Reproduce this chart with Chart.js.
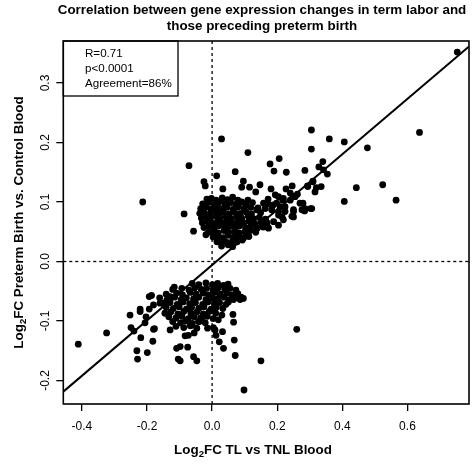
<!DOCTYPE html>
<html>
<head>
<meta charset="utf-8">
<title>Term labor vs preterm birth</title>
<script src="https://cdn.jsdelivr.net/npm/chart.js@4.4.0/dist/chart.umd.min.js"></script>
<style>
  html, body { margin: 0; padding: 0; background: #fff; }
  #wrap { width: 475px; height: 465px; }
</style>
</head>
<body>
<div id="wrap"><canvas id="scatterChart"></canvas></div>
<script>
// axis ranges and ticks
const xMin = -0.457, xMax = 0.789;
const yMin = -0.2395, yMax = 0.3706;
const xTicks = [-0.4, -0.2, 0.0, 0.2, 0.4, 0.6];
const yTicks = [-0.2, -0.1, 0.0, 0.1, 0.2, 0.3];

// fitted line
const fitSlope = 0.4655;
const fitIntercept = -0.006;

const titleLines = ["Correlation between gene expression changes in term labor and", "those preceding preterm birth"];
const statsLines = ["R=0.71", "p<0.0001", "Agreement=86%"];

// genes up in both (upper cloud), [log2FC TL, log2FC PTB]
const upperCluster = [
  [0.753,0.352],[0.637,0.217],[0.305,0.221],[0.360,0.206],[0.406,0.201],[0.477,0.191],[0.305,0.189],
  [0.029,0.206],[0.110,0.183],[0.178,0.164],[0.206,0.173],[0.190,0.152],[0.228,0.150],[0.285,0.153],
  [0.071,0.151],[0.014,0.144],[0.340,0.168],[0.328,0.159],[0.342,0.154],[0.354,0.147],
  [0.310,0.135],[0.293,0.127],[0.320,0.124],[0.335,0.126],[0.443,0.124],[0.524,0.129],[0.565,0.103],[0.406,0.101],
  [0.303,0.089],[0.279,0.098],[0.284,0.085],[0.246,0.127],[0.227,0.122],[0.181,0.122],[0.147,0.129],
  [0.096,0.135],[0.091,0.125],[0.115,0.125],[0.033,0.122],[0.134,0.117],
  [0.262,0.113],[0.248,0.110],[0.240,0.103],[0.204,0.109],[0.198,0.098],
  [0.217,0.103],[0.224,0.092],[0.250,0.087],[0.245,0.076],
  [0.172,0.105],[0.158,0.098],[0.172,0.097],[0.188,0.095],[0.110,0.103],[0.124,0.099],
  [0.204,0.084],[0.215,0.075],[0.204,0.061],[0.172,0.057],
  [-0.071,0.161],[-0.025,0.134],[-0.021,0.127],[-0.213,0.100],[-0.086,0.080],[-0.057,0.051],[-0.019,0.045],[-0.016,0.105],
  [0.294,0.126],[0.309,0.134],[0.316,0.117],[0.194,0.112],[0.219,0.106],[0.240,0.115],[0.255,0.109],
  [0.270,0.098],[0.286,0.089],[0.306,0.089],[0.137,0.087],[0.163,0.089],[0.183,0.087],[0.209,0.092],
  [0.224,0.084],[0.250,0.084],[0.204,0.078],[0.219,0.070],[0.250,0.075],[0.276,0.087],[0.173,0.056],
  [-0.002,0.106],[0.012,0.103],[0.031,0.107],[0.047,0.104],[0.063,0.108],[0.079,0.103],
  [-0.029,0.097],[-0.011,0.099],[0.006,0.096],[0.021,0.100],[0.039,0.097],[0.057,0.099],[0.073,0.096],[0.091,0.100],[0.104,0.095],
  [-0.035,0.089],[-0.019,0.091],[-0.003,0.088],[0.015,0.092],[0.027,0.089],[0.046,0.091],[0.065,0.088],[0.081,0.092],[0.099,0.089],[0.119,0.091],[0.141,0.090],
  [-0.038,0.081],[-0.025,0.083],[-0.007,0.080],[0.009,0.084],[0.023,0.081],[0.035,0.083],[0.053,0.080],[0.069,0.083],[0.087,0.081],[0.105,0.083],[0.121,0.080],[0.149,0.082],
  [-0.033,0.073],[-0.017,0.075],[-0.005,0.072],[0.013,0.076],[0.025,0.073],[0.043,0.075],[0.057,0.072],[0.075,0.075],[0.091,0.073],[0.111,0.076],[0.127,0.072],[0.145,0.074],[0.164,0.071],
  [-0.030,0.065],[-0.013,0.067],[0.003,0.064],[0.017,0.068],[0.033,0.065],[0.047,0.067],[0.065,0.064],[0.079,0.067],[0.097,0.065],[0.113,0.068],[0.131,0.064],[0.151,0.066],[0.169,0.065],[0.189,0.067],
  [-0.025,0.057],[-0.009,0.059],[0.007,0.056],[0.021,0.060],[0.039,0.057],[0.053,0.059],[0.071,0.056],[0.085,0.060],[0.103,0.057],[0.119,0.059],[0.139,0.056],[0.157,0.058],
  [-0.011,0.049],[0.005,0.051],[0.019,0.048],[0.037,0.052],[0.051,0.049],[0.069,0.051],[0.083,0.048],[0.101,0.050],[0.117,0.052],[0.134,0.049],
  [0.003,0.041],[0.017,0.043],[0.035,0.040],[0.049,0.044],[0.067,0.041],[0.081,0.043],[0.097,0.040],[0.113,0.042],
  [0.015,0.033],[0.031,0.035],[0.045,0.032],[0.063,0.035],[0.077,0.033],[0.093,0.036],
  [0.029,0.026],[0.049,0.028],[0.063,0.025]
];

// genes down in both (lower cloud)
const lowerCluster = [
  [-0.411,-0.139],[-0.324,-0.120],[-0.252,-0.090],[-0.249,-0.111],[-0.240,-0.117],[-0.221,-0.080],[-0.221,-0.084],
  [-0.219,-0.128],[-0.231,-0.150],[-0.229,-0.164],[-0.199,-0.153],[-0.182,-0.134],[-0.177,-0.113],[-0.193,-0.059],
  [-0.186,-0.057],[-0.193,-0.080],[-0.206,-0.103],[-0.116,-0.043],[-0.109,-0.146],[-0.104,-0.164],[-0.098,-0.167],
  [-0.075,-0.144],[-0.057,-0.160],[-0.047,-0.167],[-0.083,-0.125],[-0.073,-0.124],[-0.055,-0.120],[0.032,-0.118],
  [0.022,-0.135],[0.035,-0.146],[0.068,-0.132],[0.071,-0.158],[0.012,-0.124],[0.260,-0.114],[0.150,-0.167],
  [0.098,-0.216],[0.066,-0.102],[0.064,-0.089],[0.086,-0.064],[0.066,-0.064],[0.004,-0.111],[-0.014,-0.112],[-0.047,-0.112],
  [-0.180,-0.073],[-0.160,-0.070],[-0.203,-0.093],[-0.180,-0.114],[-0.129,-0.115],[-0.098,-0.143],
  [0.096,-0.062],[0.050,-0.068],[0.030,-0.090],[0.019,-0.098],[0.009,-0.115],[-0.042,-0.101],[-0.032,-0.098],[-0.062,-0.107],
  [-0.150,-0.070],[-0.139,-0.065],[-0.129,-0.059],
  [-0.061,-0.037],[-0.041,-0.039],[-0.019,-0.036],[0.001,-0.039],[0.017,-0.037],[0.035,-0.040],[0.049,-0.038],
  [-0.121,-0.047],[-0.093,-0.045],[-0.071,-0.048],[-0.053,-0.044],[-0.033,-0.047],[-0.017,-0.045],[0.003,-0.048],[0.019,-0.044],[0.039,-0.047],[0.055,-0.045],[0.073,-0.048],
  [-0.141,-0.055],[-0.109,-0.053],[-0.091,-0.056],[-0.067,-0.052],[-0.049,-0.055],[-0.027,-0.053],[-0.011,-0.056],[0.009,-0.052],[0.025,-0.055],[0.045,-0.053],[0.061,-0.056],[0.079,-0.054],
  [-0.161,-0.061],[-0.131,-0.063],[-0.115,-0.060],[-0.095,-0.064],[-0.079,-0.061],[-0.057,-0.063],[-0.041,-0.060],[-0.019,-0.064],[0.001,-0.061],[0.017,-0.063],[0.037,-0.060],[0.053,-0.064],[0.069,-0.061],[0.089,-0.060],
  [-0.149,-0.071],[-0.129,-0.069],[-0.107,-0.072],[-0.089,-0.068],[-0.069,-0.071],[-0.051,-0.069],[-0.029,-0.072],[-0.013,-0.068],[0.007,-0.071],[0.023,-0.069],[0.043,-0.072],
  [-0.141,-0.077],[-0.119,-0.079],[-0.101,-0.076],[-0.079,-0.080],[-0.063,-0.077],[-0.041,-0.079],[-0.025,-0.076],[-0.003,-0.080],[0.013,-0.077],[0.033,-0.079],
  [-0.145,-0.087],[-0.127,-0.085],[-0.105,-0.088],[-0.087,-0.084],[-0.065,-0.087],[-0.047,-0.085],[-0.027,-0.088],[-0.009,-0.084],[0.011,-0.087],
  [-0.133,-0.093],[-0.111,-0.095],[-0.093,-0.092],[-0.073,-0.096],[-0.055,-0.093],[-0.035,-0.095],[-0.015,-0.092],[0.003,-0.096],
  [-0.121,-0.101],[-0.097,-0.103],[-0.081,-0.100],[-0.061,-0.104],[-0.039,-0.101],[-0.021,-0.103],
  [-0.111,-0.109],[-0.087,-0.111],[-0.067,-0.108]
];

const FONT = "'Liberation Sans', Arial, sans-serif";

function toPoints(list) {
  return list.map(p => ({ x: p[0], y: p[1] }));
}

// draws "Log" + subscript 2 + rest, centred on (0,0) of the current transform
function drawLogLabel(ctx, rest, size) {
  const big = "bold " + size + "px " + FONT;
  const small = "bold " + (size * 0.72).toFixed(1) + "px " + FONT;
  ctx.font = big;
  const w1 = ctx.measureText("Log").width;
  const w3 = ctx.measureText(rest).width;
  ctx.font = small;
  const w2 = ctx.measureText("2").width;
  let x = -(w1 + w2 + w3) / 2;
  const base = size * 0.36;
  ctx.textAlign = "left";
  ctx.textBaseline = "alphabetic";
  ctx.font = big;
  ctx.fillText("Log", x, base);
  x += w1;
  ctx.font = small;
  ctx.fillText("2", x, base + size * 0.25);
  x += w2;
  ctx.font = big;
  ctx.fillText(rest, x, base);
}

const rDecor = {
  id: "rDecor",
  afterDraw(chart) {
    const ctx = chart.ctx;
    const area = chart.chartArea;
    const yScale = chart.scales.y;
    ctx.save();
    ctx.fillStyle = "#000";
    ctx.strokeStyle = "#000";

    // plot box
    ctx.lineWidth = 1.6;
    ctx.strokeRect(area.left, area.top, area.right - area.left, area.bottom - area.top);

    // y tick labels, parallel to the axis
    ctx.font = "12px " + FONT;
    ctx.textAlign = "center";
    ctx.textBaseline = "middle";
    yTicks.forEach(v => {
      const py = yScale.getPixelForValue(v);
      ctx.save();
      ctx.translate(46, py);
      ctx.rotate(-Math.PI / 2);
      ctx.fillText(v.toFixed(1), 0, 0);
      ctx.restore();
    });

    // stats box
    ctx.lineWidth = 1.3;
    ctx.strokeRect(area.left, area.top, 178 - area.left, 96 - area.top);
    ctx.font = "11.6px " + FONT;
    ctx.textAlign = "left";
    ctx.textBaseline = "alphabetic";
    statsLines.forEach((s, i) => {
      ctx.fillText(s, 85, 57.3 + i * 14.7);
    });

    // main title
    ctx.font = "bold 13.4px " + FONT;
    ctx.textAlign = "center";
    ctx.fillText(titleLines[0], 262, 13.5);
    ctx.fillText(titleLines[1], 262, 29.5);

    // axis titles
    ctx.save();
    ctx.translate(253, 449);
    drawLogLabel(ctx, "FC TL vs TNL Blood", 13.4);
    ctx.restore();

    ctx.save();
    ctx.translate(18, (area.top + area.bottom) / 2);
    ctx.rotate(-Math.PI / 2);
    drawLogLabel(ctx, "FC Preterm Birth vs. Control Blood", 13.4);
    ctx.restore();

    ctx.restore();
  }
};

const ctx = document.getElementById("scatterChart").getContext("2d");

const chart = new Chart(ctx, {
  type: "scatter",
  data: {
    datasets: [
      {
        label: "Fit",
        data: [
          { x: xMin, y: fitIntercept + fitSlope * xMin },
          { x: xMax, y: fitIntercept + fitSlope * xMax }
        ],
        showLine: true,
        borderColor: "#000",
        borderWidth: 2,
        pointRadius: 0
      },
      {
        label: "x = 0",
        data: [{ x: 0, y: yMin }, { x: 0, y: yMax }],
        showLine: true,
        borderColor: "#000",
        borderWidth: 1.3,
        borderDash: [3, 3],
        pointRadius: 0
      },
      {
        label: "y = 0",
        data: [{ x: xMin, y: 0 }, { x: xMax, y: 0 }],
        showLine: true,
        borderColor: "#000",
        borderWidth: 1.3,
        borderDash: [3, 3],
        pointRadius: 0
      },
      {
        label: "Genes",
        data: toPoints(upperCluster).concat(toPoints(lowerCluster)),
        backgroundColor: "#000",
        borderWidth: 0,
        pointRadius: 3.4
      }
    ]
  },
  options: {
    responsive: true,
    maintainAspectRatio: false,
    animation: false,
    layout: { padding: { top: 41, right: 6, left: 0, bottom: 0 } },
    plugins: {
      legend: { display: false },
      tooltip: { enabled: false }
    },
    scales: {
      x: {
        type: "linear",
        min: xMin,
        max: xMax,
        afterBuildTicks: scale => { scale.ticks = xTicks.map(v => ({ value: v })); },
        afterFit: scale => { scale.height = 61; },
        ticks: {
          callback: v => v.toFixed(1),
          color: "#000",
          font: { family: FONT, size: 12 },
          padding: 8,
          maxRotation: 0,
          autoSkip: false
        },
        grid: { drawOnChartArea: false, drawTicks: true, tickLength: 7, color: "#000", lineWidth: 1.3 },
        border: { display: false }
      },
      y: {
        type: "linear",
        min: yMin,
        max: yMax,
        afterBuildTicks: scale => { scale.ticks = yTicks.map(v => ({ value: v })); },
        afterFit: scale => { scale.width = 63.3; },
        ticks: { display: false },
        grid: { drawOnChartArea: false, drawTicks: true, tickLength: 7, color: "#000", lineWidth: 1.3 },
        border: { display: false }
      }
    }
  },
  plugins: [rDecor]
});
</script>
</body>
</html>
